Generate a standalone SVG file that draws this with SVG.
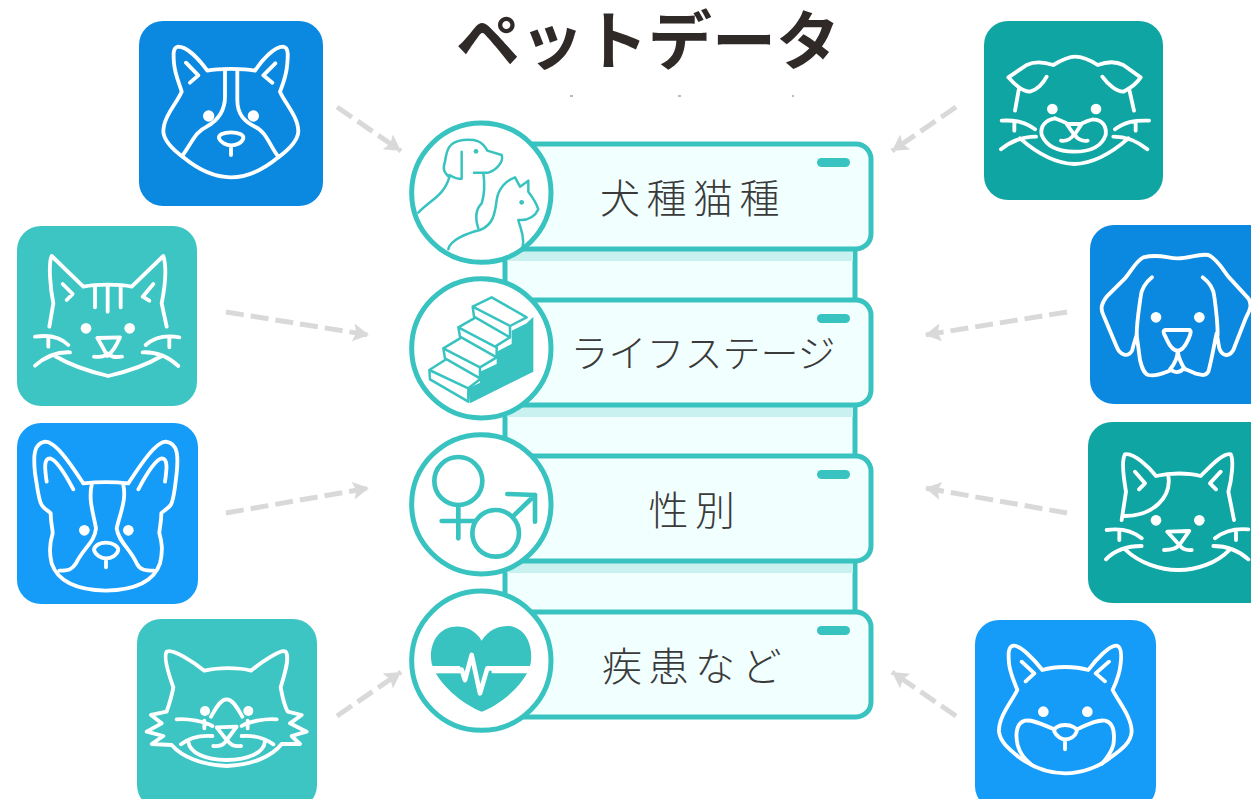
<svg xmlns="http://www.w3.org/2000/svg" width="1251" height="799" viewBox="0 0 1251 799">
<style>
.ln{fill:none;stroke:#fff;stroke-width:11.5;stroke-linecap:round;stroke-linejoin:round}
.ey{fill:#fff}
.conn{fill:none;stroke:#d9d9d9;stroke-width:5;stroke-dasharray:18 7;marker-end:url(#ah)}
.card{fill:#f2ffff;stroke:#38c3c0;stroke-width:5}
.pill{fill:#38c3c0}
.disc{fill:#fff;stroke:#38c3c0;stroke-width:5}
.tl{fill:none;stroke:#38c3c0;stroke-width:7.5;stroke-linecap:round;stroke-linejoin:round}
.tf{fill:#38c3c0}
.lab{font-family:"Noto Sans CJK JP","Noto Sans",sans-serif;font-size:40px;fill:#3a3a3a;text-anchor:middle;font-weight:300}
.title{font-family:"Noto Sans CJK JP","Noto Sans",sans-serif;font-size:64px;font-weight:700;fill:#2f2a28;text-anchor:middle}
</style>
<defs>
<marker id="ah" markerUnits="userSpaceOnUse" markerWidth="20" markerHeight="20" refX="16" refY="9" orient="auto"><path d="M0,0L16,9L0,18L3,9Z" fill="#d9d9d9"/></marker>
</defs>
<rect width="1251" height="799" fill="#fff"/>
<text class="title" x="648" y="64">ペットデータ</text>
<g stroke="#777" stroke-width="1"><path d="M570,96h3M678,96h3M792,96h2"/></g>

<g id="connectors">
<path class="conn" d="M337,107L401,151"/>
<path class="conn" d="M226,312L369,335"/>
<path class="conn" d="M226,513L369,488"/>
<path class="conn" d="M337,716L401,672"/>
<path class="conn" d="M956,107L892,151"/>
<path class="conn" d="M1067,312L925,335"/>
<path class="conn" d="M1067,513L925,488"/>
<path class="conn" d="M956,716L892,672"/>
</g>

<g id="stack">
<rect x="505" y="240" width="350" height="380" fill="#f2ffff" stroke="#38c3c0" stroke-width="5"/>
<rect x="507" y="250" width="346" height="11" fill="#c8f1ef"/>
<rect x="507" y="406" width="346" height="11" fill="#c8f1ef"/>
<rect x="507" y="562" width="346" height="11" fill="#c8f1ef"/>
</g>

<g id="node-breed">
<rect class="card" x="500" y="144" width="371" height="105" rx="15"/>
<rect class="pill" x="817" y="158" width="33" height="9" rx="4.5"/>
<text class="lab" x="693" y="213" letter-spacing="6.5">犬種猫種</text>
<g transform="translate(400 90) scale(.33333)">
<circle class="disc" style="stroke-width:15" cx="244" cy="308" r="209"/>
<path class="tl" d="M55,368C90,330 130,320 148,262C130,245 128,235 135,215C140,180 145,155 190,150C225,148 245,150 262,182L305,195C312,215 290,240 265,248L222,248M185,185L185,266C175,268 160,262 148,255M250,248C255,285 255,310 245,340C225,360 225,385 235,415"/>
<path class="tl" d="M145,478C150,450 200,430 240,420C280,405 285,370 290,330C295,295 320,270 345,262L360,290L385,272L385,305C400,325 410,340 415,358C405,380 385,392 355,390C360,415 375,435 368,470"/>
<circle class="tf" cx="228" cy="184" r="7"/><circle class="tf" cx="365" cy="337" r="7"/>
</g>
</g>

<g id="node-lifestage">
<rect class="card" x="500" y="300" width="371" height="105" rx="15"/>
<rect class="pill" x="817" y="314" width="33" height="9" rx="4.5"/>
<text class="lab" x="703" y="367" style="font-size:38px">ライフステージ</text>
<g transform="translate(400 90) scale(.33333)">
<circle class="disc" style="stroke-width:15" cx="244" cy="775" r="209"/>
<path class="tf" d="M400,680V845L210,940L205,895L240,878V845L290,822V785L335,762V722L380,700Z"/>
<path class="tl" d="M218,650L275,622L380,682L330,708L218,650L222,680L330,742V708M175,712L222,685M330,742L285,770L175,712L180,740L290,802V770M130,775L180,745M290,802L240,832L130,775L135,805L240,865V832M88,840L135,810M240,868L205,895L88,840L90,868L205,935V895"/>
</g>
</g>

<g id="node-sex">
<rect class="card" x="500" y="456" width="371" height="105" rx="15"/>
<rect class="pill" x="817" y="470" width="33" height="9" rx="4.5"/>
<text class="lab" x="695" y="525" letter-spacing="6.5">性別</text>
<g transform="translate(400 420) scale(.33333)">
<circle class="disc" style="stroke-width:15" cx="244" cy="253" r="209"/>
<g style="stroke-width:14" fill="none" stroke="#38c3c0" stroke-linecap="round" stroke-linejoin="round">
<circle cx="175" cy="183" r="72"/><path d="M175,255V355M125,303H225"/>
<circle cx="287" cy="340" r="70"/><path d="M338,290L405,225M322,222L405,225V305"/>
</g>
</g>
</g>

<g id="node-disease">
<rect class="card" x="500" y="612" width="371" height="105" rx="15"/>
<rect class="pill" x="817" y="626" width="33" height="9" rx="4.5"/>
<text class="lab" x="695" y="681" letter-spacing="6.5">疾患など</text>
<g transform="translate(400 420) scale(.33333)">
<circle class="disc" style="stroke-width:15" cx="244" cy="722" r="209"/>
<path class="tf" d="M245,662C225,630 195,618 165,620C110,622 85,680 95,730C110,790 190,855 245,875C300,855 380,790 392,730C400,680 380,622 325,618C295,618 265,630 245,662Z"/>
<path d="M85,749H180" stroke="#fff" stroke-width="22" fill="none"/><path d="M275,749H400" stroke="#fff" stroke-width="22" fill="none"/>
<path d="M175,749H185L195,780L215,705L240,820L262,745H285" stroke="#fff" stroke-width="14" fill="none" stroke-linejoin="round"/>
</g>
</g>

<g id="pet-corgi">
<rect x="139" y="21" width="184" height="185" rx="24" fill="#0b88e0"/>
<g transform="translate(130 0) scale(.33333)">
<path class="ln" d="M232,212C205,175 170,140 145,140C128,142 130,165 132,190C135,225 150,255 155,275C140,310 100,350 100,395C102,425 130,450 160,472C200,505 250,532 303,532C356,532 405,505 445,472C475,450 503,425 505,395C505,350 465,310 450,275C458,255 470,225 472,190C474,165 476,142 459,140C434,140 400,175 375,212C340,205 265,205 232,212Z"/>
<path class="ln" d="M168,188L205,226L180,248M436,190L400,226L427,248M285,208V290C285,330 265,360 230,380C195,395 185,430 158,466M322,208V300C322,345 345,365 375,380C410,395 420,440 445,470"/>
<path class="ln" d="M303,397C280,397 265,405 267,415C272,428 290,436 303,436C320,436 336,428 340,415C342,405 325,397 303,397ZM303,436V465"/>
<circle class="ey" cx="236" cy="348" r="17"/><circle class="ey" cx="370" cy="348" r="17"/>
</g>
</g>

<g id="pet-tabby">
<rect x="17" y="226" width="180" height="180" rx="24" fill="#3dc5c3"/>
<g transform="translate(0 220) scale(.33333)">
<path class="ln" d="M148,320L160,250C150,200 145,130 155,108L250,200C290,192 360,192 395,200L490,108C500,140 495,200 485,250L500,320"/>
<path class="ln" d="M188,192L218,222L200,240M460,192L428,230L448,242M285,200V262M323,195V275M362,200V262"/>
<path class="ln" d="M292,354L360,352C350,375 340,395 322,408C315,395 305,375 292,354ZM282,410C300,412 315,410 322,400C332,412 345,412 366,410"/>
<path class="ln" d="M105,350C140,345 180,350 205,375M145,350V380M105,437C130,415 165,395 210,397M165,408C210,435 270,455 325,468C380,455 440,435 485,408M538,352C500,345 465,350 437,375M508,350V382M535,438C510,415 475,395 428,397"/>
<circle class="ey" cx="258" cy="325" r="16"/><circle class="ey" cx="389" cy="325" r="16"/>
</g>
</g>

<g id="pet-boston">
<rect x="17" y="423" width="181" height="181" rx="24" fill="#159bf8"/>
<g transform="translate(0 220) scale(.33333)">
<path class="ln" d="M250,790C220,745 170,665 135,665C100,670 100,710 105,760C112,800 115,840 125,855C135,870 150,875 152,880C152,910 158,925 158,940C150,965 145,990 155,1030C175,1090 240,1110 318,1112C396,1110 460,1090 480,1030C490,990 485,965 478,940C478,925 484,910 484,880C486,875 500,870 512,855C522,840 525,800 530,760C535,710 535,670 498,665C465,665 415,745 385,790C340,785 295,785 250,790Z"/>
<path class="ln" d="M140,785C135,750 130,715 150,715C170,720 200,770 220,808M415,808C435,770 465,720 485,715C505,715 500,750 495,785M275,795C265,840 280,880 288,925C285,965 250,985 228,1030C215,1050 205,1052 178,1052M370,795C380,840 360,880 350,925C355,965 390,985 410,1030C420,1050 435,1052 462,1052"/>
<path class="ln" d="M318,968C295,968 282,980 282,990C285,1005 305,1015 318,1015C335,1015 352,1005 355,990C355,980 340,968 318,968ZM318,1015V1042"/>
<circle class="ey" cx="253" cy="931" r="16"/><circle class="ey" cx="385" cy="931" r="16"/>
</g>
</g>

<g id="pet-fluffy">
<rect x="137" y="619" width="180" height="190" rx="24" fill="#3dc5c3"/>
<g transform="translate(125 610) scale(.33333)">
<path class="ln" d="M145,232C130,190 115,140 125,125C145,115 210,160 238,182C280,172 340,172 378,182C410,155 470,115 482,125C495,140 480,190 467,232C472,260 480,290 488,305L530,315L495,340L545,365L500,378L525,402L470,402C440,440 380,465 305,468C230,465 170,440 140,405L80,402L115,378L65,365L110,340L78,315L125,305C130,290 140,260 145,232Z"/>
<path class="ln" d="M258,320C270,300 285,268 305,268C325,268 340,300 352,320M155,328C190,325 240,335 262,348M238,332V355M168,403C190,385 220,375 262,378M455,328C420,325 370,335 350,348M368,332V355M445,403C420,385 390,375 350,378"/>
<path class="ln" d="M275,352L335,350L305,390ZM265,408C285,410 300,405 305,388C315,405 325,410 348,408M190,395C195,430 240,448 305,450C370,448 415,430 420,395"/>
<circle class="ey" cx="240" cy="303" r="15"/><circle class="ey" cx="370" cy="303" r="15"/>
</g>
</g>

<g id="pet-fold">
<rect x="984" y="21" width="179" height="179" rx="24" fill="#0fa5a3"/>
<g transform="translate(975 10) scale(.33333)">
<path class="ln" d="M235,165C260,150 280,140 300,140C325,140 345,150 368,165C395,155 425,155 445,165L497,202C485,220 465,235 445,245C425,245 400,225 382,200M235,165C205,155 175,155 155,165L100,202C120,225 145,245 165,245C185,240 205,220 215,200M132,235L120,302M462,235L477,302"/>
<path class="ln" d="M240,325C210,330 195,350 200,375C215,410 250,425 298,425C345,425 380,410 392,375C395,350 385,330 355,328M240,325C250,330 270,335 283,345M355,328C340,330 325,338 312,345M275,342H320L298,375ZM258,392C275,395 290,385 298,372C305,385 320,395 338,392"/>
<path class="ln" d="M80,332C120,330 150,335 180,358M118,335V362M78,418C100,400 130,380 183,380M522,332C480,330 450,335 420,358M482,335V362M517,418C495,400 465,380 415,380M135,385C175,420 230,460 298,462C365,460 420,420 460,385"/>
<circle class="ey" cx="232" cy="297" r="16"/><circle class="ey" cx="363" cy="297" r="16"/>
</g>
</g>

<g id="pet-floppy">
<rect x="1090" y="225" width="190" height="179" rx="24" fill="#0b88e0"/>
<g transform="translate(1080 220) scale(.33333)">
<path class="ln" d="M190,112C240,100 260,115 293,115C330,115 355,100 385,105C410,115 430,150 445,170L505,235C520,260 505,275 495,300L460,390C445,415 425,405 418,385C415,370 412,350 410,340C405,360 395,420 385,455C375,470 365,465 345,460L310,445C305,455 285,462 275,450C250,460 225,470 205,465C190,460 185,440 180,420L170,345C165,360 160,375 157,390C145,415 120,405 110,380L70,285C60,265 65,250 80,230L135,175C150,160 165,125 190,112Z"/>
<path class="ln" d="M216,172C200,185 185,200 182,230C175,280 170,310 170,345M368,172C385,185 400,200 403,230C410,280 413,310 413,345"/>
<path class="ln" d="M255,330H330C335,335 330,345 325,358C315,380 305,392 293,392C280,392 270,380 260,358C255,345 245,335 255,330ZM293,392C293,410 285,430 270,448M293,392C295,410 303,430 315,448"/>
<circle class="ey" cx="228" cy="292" r="16"/><circle class="ey" cx="358" cy="292" r="16"/>
</g>
</g>

<g id="pet-patch">
<rect x="1088" y="422" width="190" height="181" rx="24" fill="#0fa5a3"/>
<g transform="translate(1080 220) scale(.33333)">
<path class="ln" d="M125,900L138,815C130,770 125,720 135,703C160,695 210,745 228,768C270,758 325,758 362,768C385,745 430,695 452,703C462,720 455,780 445,815L462,900M265,768C275,830 220,890 130,888"/>
<path class="ln" d="M165,755L195,790L177,808M422,755L390,790L408,808M262,935L328,933L298,975ZM252,990C275,990 290,985 298,975C305,985 315,992 335,990"/>
<path class="ln" d="M80,930C115,925 155,930 185,955M118,930V960M78,1018C100,995 130,978 185,978M505,928C470,925 435,930 405,955M468,930V960M505,1018C480,995 450,978 400,978M135,988C180,1030 240,1050 295,1050C350,1050 410,1030 450,988"/>
<circle class="ey" cx="228" cy="901" r="16"/><circle class="ey" cx="358" cy="901" r="16"/>
</g>
</g>

<g id="pet-shiba">
<rect x="975" y="620" width="181" height="190" rx="24" fill="#159bf8"/>
<g transform="translate(965 610) scale(.33333)">
<path class="ln" d="M232,180C205,145 165,105 145,107C128,110 130,135 132,160C135,190 150,220 157,240C140,275 100,320 102,365C105,395 130,415 160,440C200,470 250,490 300,490C350,490 405,470 440,440C475,415 498,395 500,365C500,320 460,275 443,240C452,220 465,190 467,160C470,135 470,110 455,107C435,105 395,145 370,180C330,168 270,168 232,180Z"/>
<path class="ln" d="M170,155L208,190L182,214M432,155L392,190L420,214M268,358C235,345 205,328 180,332C155,338 150,370 158,405C168,440 185,450 200,465M335,358C365,345 395,328 420,332C445,338 450,370 445,405C438,430 425,445 410,462"/>
<path class="ln" d="M300,345C280,345 265,355 268,365C275,380 290,388 300,388C315,388 330,380 335,365C338,355 320,345 300,345ZM300,388V418"/>
<circle class="ey" cx="235" cy="305" r="16"/><circle class="ey" cx="367" cy="305" r="16"/>
</g>
</g>
</svg>
